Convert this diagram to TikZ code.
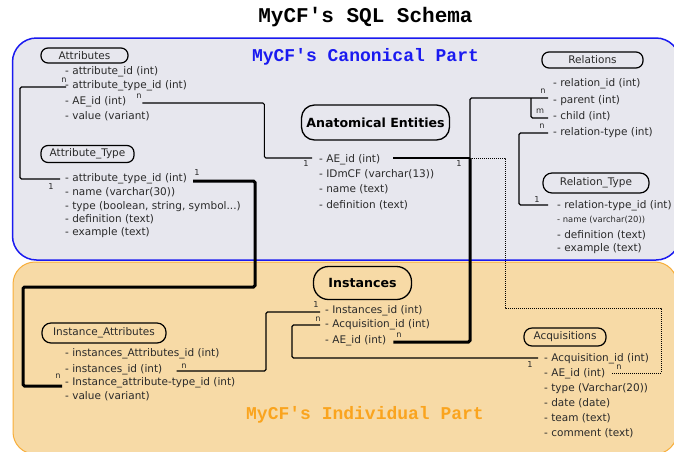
\documentclass[tikz,border=0pt]{standalone}
\usepackage{fontspec}
\setmainfont{DejaVu Sans}
\newfontfamily\titlefont{Liberation Mono}
\definecolor{canonfill}{HTML}{E7E7EE}
\definecolor{canonline}{HTML}{1A1AF0}
\definecolor{indivfill}{HTML}{F7DAA6}
\definecolor{indivline}{HTML}{F8AE3A}
\definecolor{indivtext}{HTML}{FAA41E}
\definecolor{fieldtext}{HTML}{2A2A2A}
\begin{document}
\begin{tikzpicture}[x=1pt,y=-1pt,
  field/.style={anchor=base west, inner sep=0pt, text=fieldtext, font=\fontsize{10.5}{12}\selectfont},
  smallfield/.style={anchor=base west, inner sep=0pt, text=fieldtext, font=\fontsize{8.4}{10}\selectfont},
  hdr/.style={draw, line width=1.2pt, rounded corners=7pt, inner sep=0pt, text=fieldtext, font=\fontsize{10.5}{12}\selectfont},
  bighdr/.style={draw, line width=1.3pt, rounded corners=13pt, inner sep=0pt, font=\fontsize{12.6}{14}\selectfont\bfseries},
  card/.style={inner sep=0pt, text=fieldtext, font=\fontsize{8.2}{9}\selectfont},
  conn/.style={line width=1.2pt, rounded corners=1.5pt},
  strongconn/.style={line width=3pt, rounded corners=1.5pt},
  dotconn/.style={line width=1pt, dash pattern=on 1pt off 1pt},
  parttitle/.style={anchor=base, inner sep=0pt, font=\fontsize{18}{20}\titlefont\bfseries}
]
\useasboundingbox (0,0) rectangle (674,451);
\fill[white] (0,0) rectangle (674,451);
% regions
\draw[fill=indivfill, draw=indivline, line width=1pt, rounded corners=22pt] (13,262) rectangle (677,454);
\draw[fill=canonfill, draw=canonline, line width=1.5pt, rounded corners=24pt] (12.5,38) rectangle (680,260);
% titles
\node[anchor=base, inner sep=0pt, font=\fontsize{21}{23}\titlefont\bfseries] (title) at (365.5,22) {MyCF's SQL Schema};
\node[parttitle, text=canonline] (canon) at (365.5,61) {MyCF's Canonical Part};
\node[parttitle, text=indivtext] (indiv) at (365,419) {MyCF's Individual Part};
% headers
\node[hdr, minimum width=87pt, minimum height=15pt] (hA) at (84.5,55.5) {Attributes};
\node[hdr, minimum width=93pt, minimum height=17pt] (hAT) at (87.5,154) {Attribute\_Type};
\node[bighdr, minimum width=148pt, minimum height=35pt] (hAE) at (375.5,122.5) {Anatomical Entities};
\node[hdr, minimum width=101pt, minimum height=16pt] (hR) at (592.5,60) {Relations};
\node[hdr, minimum width=106pt, minimum height=20pt, rounded corners=9pt] (hRT) at (596,183) {Relation\_Type};
\node[bighdr, rounded corners=15pt, minimum width=98pt, minimum height=33pt] (hI) at (362.5,283) {Instances};
\node[hdr, minimum width=82pt, minimum height=18pt, rounded corners=8pt] (hQ) at (565,337) {Acquisitions};
\node[hdr, minimum width=124pt, minimum height=20pt, rounded corners=9pt] (hIA) at (104,333) {Instance\_Attributes};
% Attributes
\node[field] (a1) at (65,74) {- attribute\_id (int)};
\node[field] (a2) at (65,88) {- attribute\_type\_id (int)};
\node[field] (a3) at (65,104) {- AE\_id (int)};
\node[field] (a4) at (65,119) {- value (variant)};
% Attribute_Type
\node[field] (t1) at (65,181) {- attribute\_type\_id (int)};
\node[field] (t2) at (65,195) {- name (varchar(30))};
\node[field] (t3) at (65,209) {- type (boolean, string, symbol...)};
\node[field] (t4) at (65,222) {- definition (text)};
\node[field] (t5) at (65,235) {- example (text)};
% Anatomical Entities
\node[field] (e1) at (319,162) {- AE\_id (int)};
\node[field] (e2) at (319,177) {- IDmCF (varchar(13))};
\node[field] (e3) at (319,192) {- name (text)};
\node[field] (e4) at (319,208) {- definition (text)};
% Relations
\node[field] (r1) at (553,86) {- relation\_id (int)};
\node[field] (r2) at (553,103) {- parent (int)};
\node[field] (r3) at (553,119) {- child (int)};
\node[field] (r4) at (553,135) {- relation-type (int)};
% Relation_Type
\node[field] (rt1) at (557,208) {- relation-type\_id (int)};
\node[smallfield] (rt2) at (557,222) {- name (varchar(20))};
\node[field] (rt3) at (557,238) {- definition (text)};
\node[field] (rt4) at (557,251) {- example (text)};
% Instances
\node[field] (i1) at (325,313) {- Instances\_id (int)};
\node[field] (i2) at (325,327) {- Acquisition\_id (int)};
\node[field] (i3) at (325,343) {- AE\_id (int)};
% Acquisitions
\node[field] (q1) at (544,361) {- Acquisition\_id (int)};
\node[field] (q2) at (544,376) {- AE\_id (int)};
\node[field] (q3) at (544,391) {- type (Varchar(20))};
\node[field] (q4) at (544,406) {- date (date)};
\node[field] (q5) at (544,421) {- team (text)};
\node[field] (q6) at (544,436) {- comment (text)};
% Instance_Attributes
\node[field] (ia1) at (65,356) {- instances\_Attributes\_id (int)};
\node[field] (ia2) at (65,372) {- instances\_id (int)};
\node[field] (ia3) at (65,385) {- Instance\_attribute-type\_id (int)};
\node[field] (ia4) at (65,399) {- value (variant)};
% junctions
\coordinate (j) at (470,158);
\coordinate (jb) at (531,98);
% connectors
\draw[conn] ([shift={(1,-1)}]a2.base west) -- ++(-46,0) |- ([shift={(-5,-2)}]t1.base west);
\draw[conn] ([shift={(16,-1)}]a3.base east) -- ++(122,0) |- ([shift={(-7,-4)}]e1.base west);
\draw[conn] ([shift={(13,-4)}]e1.base east) -- (j);
\draw[conn] (j) |- ([shift={(-5,-5)}]r2.base west);
\draw[conn] ([shift={(-5,-1)}]r3.base west) -| (jb);
\draw[strongconn] (j) |- ([shift={(7,-1)}]i3.base east);
\draw[dotconn] (j) -- ++(35,0) -- ++(0,150) -- ++(156,0) |- ([shift={(7,-3)}]q2.base east);
\draw[conn] ([shift={(-5,-2)}]r4.base west) -- ++(-29,0) |- ([shift={(-9,-3)}]rt1.base west);
\draw[strongconn] ([shift={(6,0)}]t1.base east) -- ++(62,0) -- ++(0,106) -- ++(-232,0) |- ([shift={(-3,1)}]ia3.base west);
\draw[conn] ([shift={(-5,-1)}]i1.base west) -- ++(-54,0) |- ([shift={(14,-1)}]ia2.base east);
\draw[conn] ([shift={(-5,-2)}]i2.base west) -- ++(-28,0) |- ([shift={(-6,-3)}]q1.base west);
% cardinalities
\node[card] (l1) at (64,80) {n};
\node[card] (l2) at (51,187) {1};
\node[card] (l3) at (139,96) {n};
\node[card] (l4) at (306,164) {1};
\node[card] (l5) at (459,164) {1};
\node[card] (l6) at (543,91) {n};
\node[card] (l7) at (540,111) {m};
\node[card] (l8) at (542,126) {n};
\node[card] (l9) at (537,200) {1};
\node[card] (l10) at (197,173) {1};
\node[card] (l11) at (58,376) {n};
\node[card] (l12) at (316,305) {1};
\node[card] (l13) at (184,366) {n};
\node[card] (l14) at (318,319) {n};
\node[card] (l15) at (530,365) {1};
\node[card] (l16) at (399,335) {n};
\node[card] (l17) at (619,367) {n};
\end{tikzpicture}
\end{document}
